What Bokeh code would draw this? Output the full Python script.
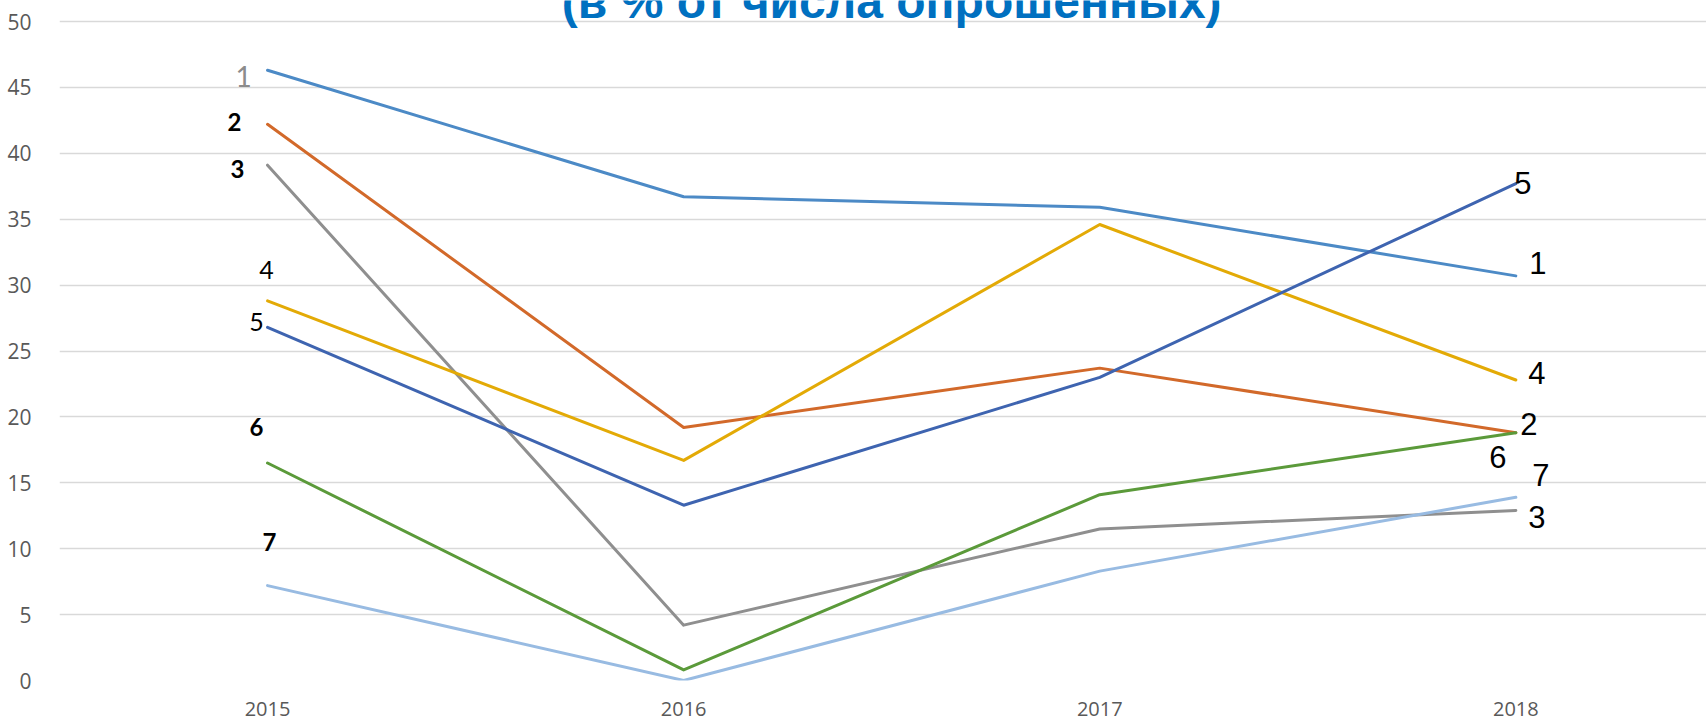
from bokeh.plotting import figure
from bokeh.models import Range1d, FixedTicker, Label
from bokeh.embed import file_html
from bokeh.resources import INLINE

# ---- data ----
years = [2015, 2016, 2017, 2018]
y_ticks = [0, 5, 10, 15, 20, 25, 30, 35, 40, 45, 50]
title_text = "(в % от числа опрошенных)"
series_names = ["1", "2", "3", "4", "5", "6", "7"]
s1 = [46.3, 36.7, 35.9, 30.7]
s2 = [42.2, 19.2, 23.7, 18.8]
s3 = [39.1, 4.2, 11.5, 12.9]
s4 = [28.8, 16.7, 34.6, 22.8]
s5 = [26.8, 13.3, 23.0, 37.7]
s6 = [16.5, 0.8, 14.1, 18.8]
s7 = [7.2, 0.0, 8.3, 13.9]
series_values = [s1, s2, s3, s4, s5, s6, s7]

# ---- styles ----
colors = ["#4C8AC6", "#D2692A", "#8F8F8F", "#E3AA06", "#3E64B0", "#5B9A3A", "#98BBE2"]
# left label style: (dx, dy_down, color, weight, size)
left_style = [
    (-24, 6, "#8C8C8C", "normal", "28px"),
    (-33, -2, "#000000", "bold", "24px"),
    (-30, 4, "#000000", "bold", "24px"),
    (-1, -31, "#000000", "normal", "25px"),
    (-11, -5, "#000000", "normal", "25px"),
    (-11, -36, "#000000", "bold", "24px"),
    (2, -44, "#000000", "bold", "24px"),
]
right_style = [
    (22, -13), (13, -9), (21, 7), (21, -7), (7, -1), (-18, 24), (25, -22),
]

W, H = 1706, 723
left_b, bottom_b = 59, 43
px_per_year = 416.1
px_per_unit = 13.18
frame_w = W - left_b
frame_h = H - bottom_b

p = figure(width=W, height=H, output_backend="svg", toolbar_location=None,
           x_range=Range1d(years[0] - 0.5, years[0] - 0.5 + frame_w / px_per_year),
           y_range=Range1d(0, frame_h / px_per_unit))
p.min_border = 0
p.min_border_left = left_b
p.min_border_right = 0
p.min_border_top = 0
p.min_border_bottom = bottom_b
p.outline_line_color = None
p.background_fill_color = "white"
p.border_fill_color = "white"

p.xgrid.grid_line_color = None
p.ygrid.grid_line_color = "#D9D9D9"
p.ygrid.grid_line_width = 1.5
p.ygrid.ticker = FixedTicker(ticks=y_ticks)

p.xaxis.ticker = FixedTicker(ticks=years)
p.yaxis.ticker = FixedTicker(ticks=y_ticks)
for ax in (p.xaxis[0], p.yaxis[0]):
    ax.axis_line_color = None
    ax.major_tick_line_color = None
    ax.minor_tick_line_color = None
    ax.major_label_text_color = "#595959"
    ax.major_label_text_font = "Open Sans"
p.xaxis.major_label_text_font_size = "20px"
p.yaxis.major_label_text_font_size = "21px"
p.xaxis.major_label_standoff = 15
p.yaxis.major_label_standoff = 22

for vals, c in zip(series_values, colors):
    p.line(years, vals, line_color=c, line_width=3, line_join="round", line_cap="round")

for name, vals, st in zip(series_names, series_values, left_style):
    dx, dy, col, wt, sz = st
    p.add_layout(Label(x=years[0], y=vals[0], text=name, x_offset=dx, y_offset=-dy,
                       text_align="center", text_baseline="middle",
                       text_color=col, text_font="Lato", text_font_style=wt,
                       text_font_size=sz))

for name, vals, st in zip(series_names, series_values, right_style):
    dx, dy = st
    p.add_layout(Label(x=years[-1], y=vals[-1], text=name, x_offset=dx, y_offset=-dy,
                       text_align="center", text_baseline="middle",
                       text_color="#000000", text_font="Liberation Sans",
                       text_font_size="31px"))

p.add_layout(Label(x=(years[0] + years[-1]) / 2, y=y_ticks[-1], text=title_text,
                   text_align="center", text_baseline="alphabetic", y_offset=20,
                   text_color="#0070C0", text_font="Liberation Sans",
                   text_font_style="bold", text_font_size="48px"))

open("out.html", "w").write(file_html(p, INLINE))
